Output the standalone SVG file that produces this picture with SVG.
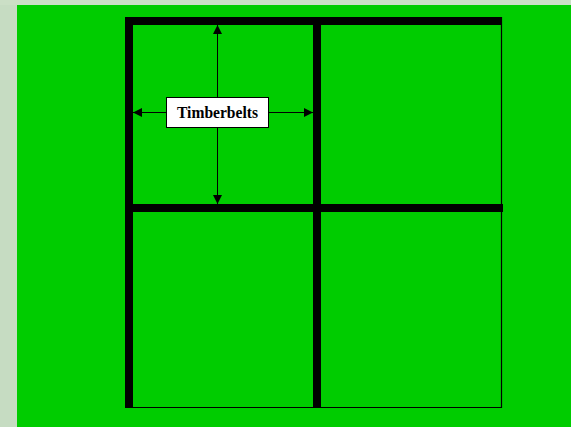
<svg xmlns="http://www.w3.org/2000/svg" width="571" height="427" viewBox="0 0 571 427">
  <style>
    .bar { fill: #000000; }
    .thin { stroke: #000000; stroke-width: 1.2; fill: none; }
    .conn { stroke: #000000; stroke-width: 1; fill: none; }
    .label-box { fill: #ffffff; stroke: #000000; stroke-width: 1; }
    .label { font-family: "Liberation Serif", "Times New Roman", serif; font-weight: bold; font-size: 16px; fill: #000000; }
  </style>
  <defs>
    <marker id="arrow" viewBox="0 0 10 10" refX="10" refY="5" markerWidth="9" markerHeight="10" markerUnits="userSpaceOnUse" orient="auto">
      <path d="M0,0 L10,5 L0,10 Z" fill="#000000"/>
    </marker>
  </defs>
  <!-- textured backdrop -->
  <rect x="0" y="0" width="571" height="427" fill="#c6dcc2"/>
  <rect x="0" y="0" width="571" height="5" fill="#cbdfc6"/>
  <!-- green field -->
  <rect x="17" y="5" width="554" height="422" fill="#00cc00"/>

  <g id="frame">
    <!-- thin right and bottom outline -->
    <path class="thin" d="M501.5,17 V407.5 H125"/>
    <!-- thick bars -->
    <rect class="bar" x="125" y="17" width="377" height="8"/>
    <rect class="bar" x="125" y="17" width="8" height="391"/>
    <rect class="bar" x="313" y="17" width="8" height="391"/>
    <rect class="bar" x="125" y="204" width="378" height="8"/>
  </g>

  <g id="connectors">
    <line class="conn" x1="217.5" y1="97" x2="217.5" y2="25" marker-end="url(#arrow)"/>
    <line class="conn" x1="217.5" y1="128" x2="217.5" y2="204" marker-end="url(#arrow)"/>
    <line class="conn" x1="166" y1="112.5" x2="133" y2="112.5" marker-end="url(#arrow)"/>
    <line class="conn" x1="269" y1="112.5" x2="313" y2="112.5" marker-end="url(#arrow)"/>
  </g>

  <g id="timberbelts">
    <rect class="label-box" x="166.5" y="97.5" width="102" height="30"/>
    <text class="label" x="217.5" y="118" text-anchor="middle" textLength="81" lengthAdjust="spacingAndGlyphs">Timberbelts</text>
  </g>
</svg>
